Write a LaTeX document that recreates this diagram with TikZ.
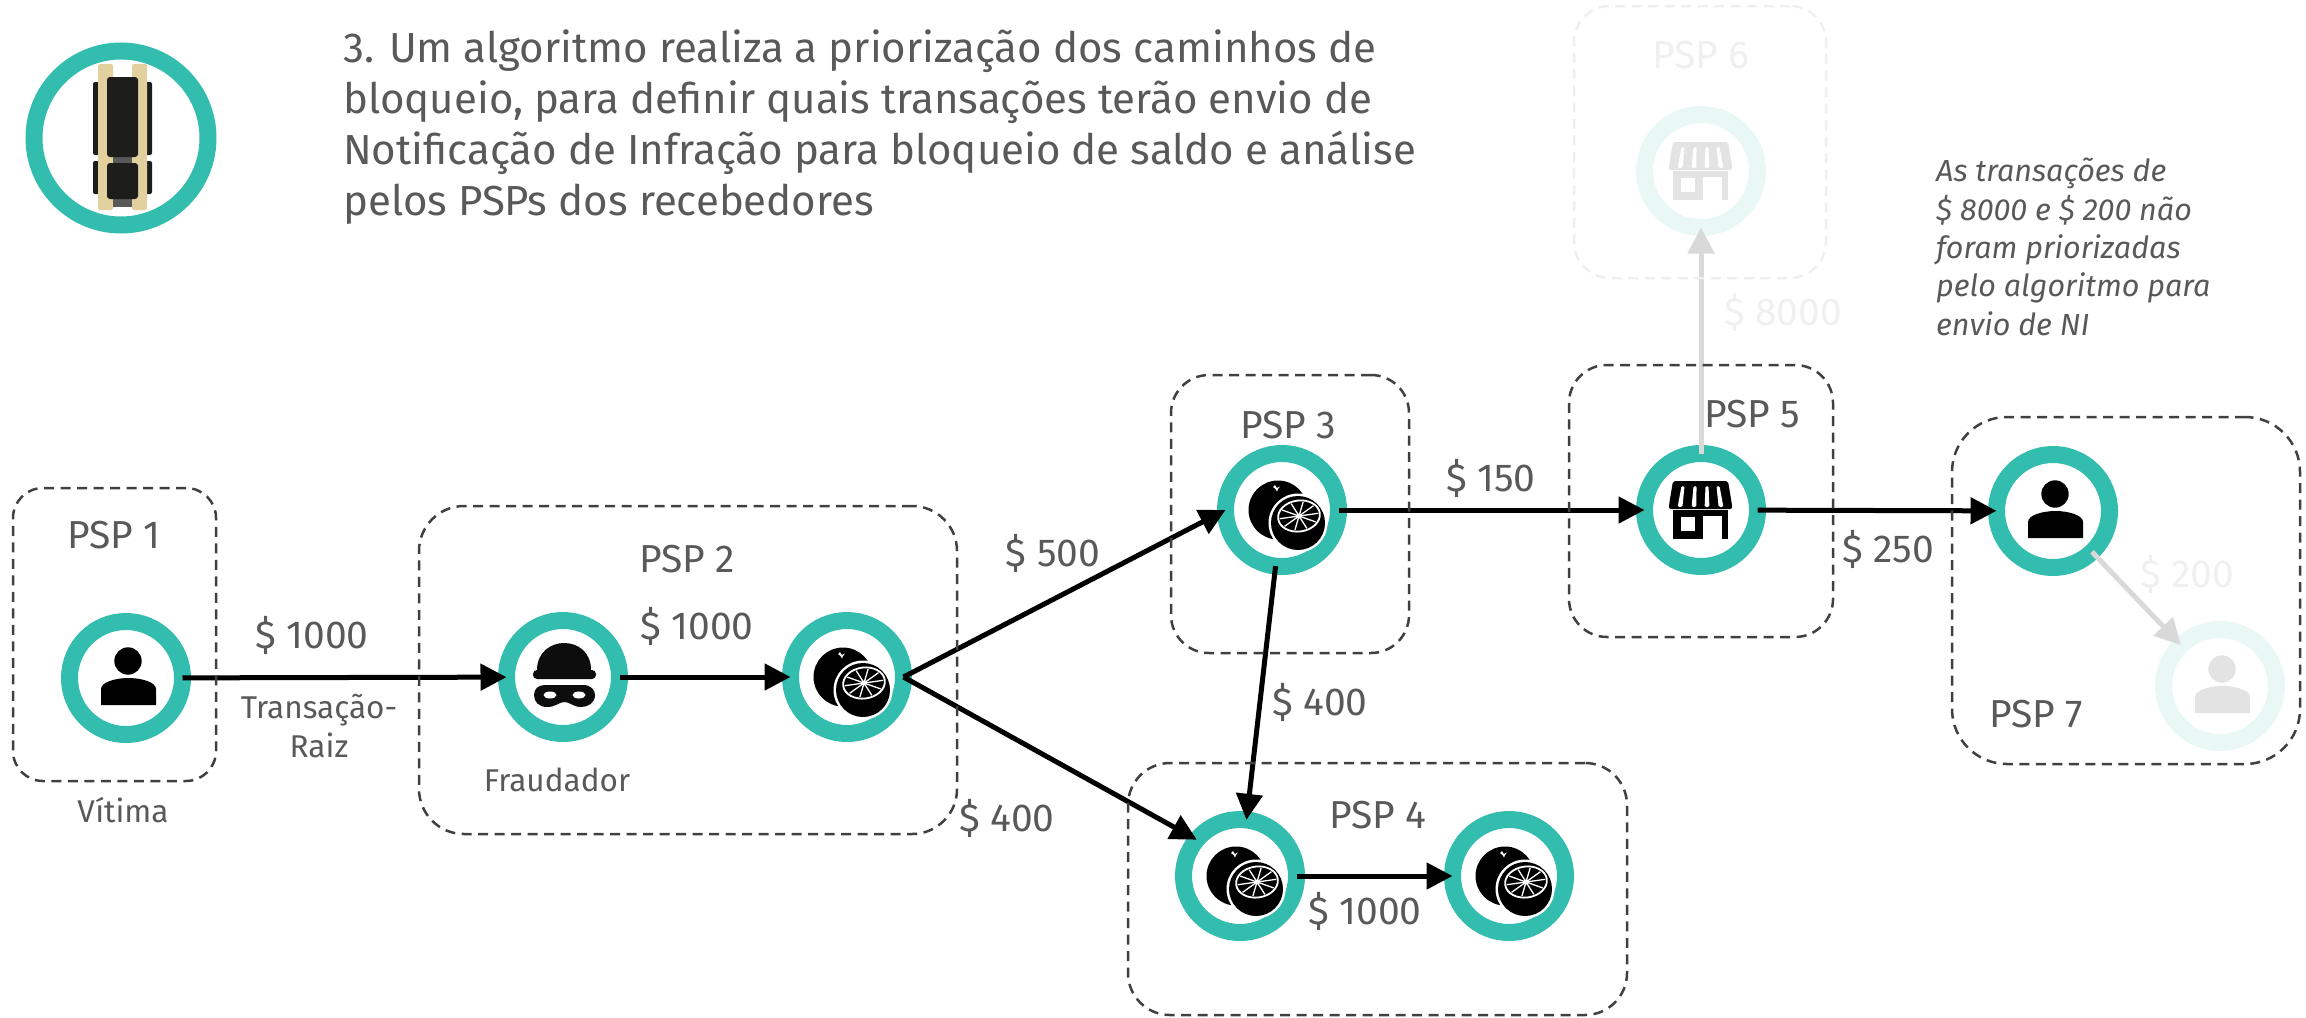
\documentclass[tikz,border=0pt]{standalone}
\usepackage{fontspec}
\setmainfont{Fira Sans}
\usetikzlibrary{arrows.meta}
\definecolor{ringteal}{HTML}{33BDAE}
\definecolor{ringfaded}{HTML}{EAF8F5}
\definecolor{textgray}{HTML}{595959}
\definecolor{textfaded}{HTML}{F0F0F0}
\definecolor{dashgray}{HTML}{404040}
\definecolor{dashfaded}{HTML}{EFEFEF}
\definecolor{arrowfaded}{HTML}{D9D9D9}
\definecolor{iconfaded}{HTML}{E3E3E3}
\definecolor{railbeige}{HTML}{E3D09F}
\definecolor{truckblack}{HTML}{1D1D1B}
\tikzstyle{ring} = [circle, draw=ringteal, line width=17pt, minimum size=113pt,
                    inner sep=0pt, outer sep=0pt]
\tikzstyle{ringoff} = [ring, draw=ringfaded]
\tikzstyle{arrow} = [line width=5pt, -{Triangle[length=26pt, width=26pt]}]
\tikzstyle{arrowoff} = [arrow, draw=arrowfaded, -{Triangle[length=26pt, width=26pt, fill=arrowfaded]}]
\tikzstyle{pspbox} = [rectangle, draw=dashgray, line width=2.5pt, dash pattern=on 10pt off 6.5pt,
                      inner sep=0pt, outer sep=0pt]
\tikzstyle{pspboxoff} = [pspbox, draw=dashfaded]
\tikzstyle{bigtext} = [anchor=base, text=textgray, font=\fontsize{39}{46}\selectfont, inner sep=0pt]
\tikzstyle{bigtextoff} = [bigtext, text=textfaded]
\tikzstyle{smalltext} = [anchor=base, text=textgray, font=\fontsize{31.5}{39}\selectfont, inner sep=0pt, align=center]
\tikzset{
  pics/person/.style={code={
    \fill[#1] (2,-17) circle (13.7);
    \fill[#1] (-25,27) -- (-25,11) .. controls (-25,4) and (-10,0) .. (2.5,0)
       .. controls (15,0) and (30,4) .. (30,11) -- (30,27) -- cycle;
  }},
  pics/fraudster/.style={code={
    \fill[#1] (-26,-7) .. controls (-26,-25) and (-12,-34) .. (1,-34)
       .. controls (15,-34) and (28,-25) .. (28,-7) -- cycle;
    \fill[#1, rounded corners=4] (-30,-7) rectangle (33,2);
    \fill[#1] (-18,8) -- (20,8) .. controls (28,8) and (32,13) .. (32,18)
       .. controls (32,26) and (25,30) .. (18,30) .. controls (10,30) and (7,25) .. (1.5,25)
       .. controls (-4,25) and (-7,30) .. (-16,30) .. controls (-24,30) and (-29,25) .. (-29,18)
       .. controls (-29,12) and (-25,8) .. (-18,8) -- cycle;
    \fill[white] (-13,18) ellipse (6.5 and 3.5);
    \fill[white] (16,18) ellipse (6.5 and 3.5);
  }},
  pics/orange/.style={code={
    \fill[#1] (-4,0) circle (29.5);
    \fill[white] (-7,-25) -- (-5.3,-22) -- (-2,-23.5) -- (-4,-21) -- (-5,-18.5) -- (-6.5,-21) -- (-9,-23) -- cycle;
    \fill[white] (16,13) circle (29.5);
    \fill[#1] (16,13) circle (27);
    \begin{scope}[shift={(17,6)}, rotate=8]
      \draw[white, line width=1.8] (0,0) ellipse (21 and 15.5);
      \foreach \a in {0,36,...,324}
        \draw[white, line width=1.3] (0,0) -- (\a:19.5 and 14);
      \fill[white] (0,0) circle (2.5);
    \end{scope}
  }},
  pics/shop/.style={code={
    \fill[#1, rounded corners=2] (-28,-29) -- (27,-29) -- (31,-5) -- (31,-1) -- (-32,-1) -- (-32,-5) -- cycle;
    \foreach \tx/\bx in {-18/-21,-6/-7,6/6,17/20}
      \fill[white, rounded corners=1.5] (\tx-1.5,-24) -- (\tx+1.5,-24) -- (\bx+2.4,-3) -- (\bx-2.4,-3) -- cycle;
    \fill[#1] (-28,0) rectangle (27,29);
    \fill[white] (-20,7) rectangle (-6,21);
    \fill[white] (2,6) rectangle (21,29);
  }},
  pics/truck/.style={code={
    \fill[truckblack, rounded corners=2] (93,82) rectangle (152,155);
    \fill[truckblack, rounded corners=2] (93,161) rectangle (152,194);
    \fill[railbeige, rounded corners=1.5] (98,64) rectangle (113,210);
    \fill[railbeige, rounded corners=1.5] (132,64) rectangle (147,210);
    \fill[textgray] (113,157) rectangle (132,163);
    \fill[textgray] (113,199) rectangle (132,207);
    \fill[truckblack, rounded corners=3] (107,77) rectangle (138,157);
    \fill[truckblack, rounded corners=3] (107,163) rectangle (138,199);
  }}
}

\begin{document}
\begin{tikzpicture}[x=1pt, y=-1pt]
        \useasboundingbox (0,0) rectangle (2306,1017);

        %Logo and heading
        \node at (121,138)(Logo) [ring, minimum size=174pt] {};
        \pic at (0,0) {truck};
        \node at (343,215)(Heading) [anchor=base west, inner sep=0pt, align=left, text=textgray,
            font=\fontsize{42}{51}\selectfont] {3. Um algoritmo realiza a priorização dos caminhos de\\
            bloqueio, para definir quais transações terão envio de\\
            Notificação de Infração para bloqueio de saldo e análise\\
            pelos PSPs dos recebedores};

        %Rings
        \node at (126,678)(Victim) [ring] {};
        \node at (563,677)(Fraudster) [ring] {};
        \node at (847,677)(OrangeA) [ring] {};
        \node at (1282,510)(OrangeB) [ring] {};
        \node at (1240,876)(OrangeC) [ring] {};
        \node at (1509,876)(OrangeD) [ring] {};
        \node at (1701,510)(Shop) [ring] {};
        \node at (1701,171)(ShopOff) [ringoff] {};
        \node at (2053,511)(Person) [ring] {};
        \node at (2220,686)(PersonOff) [ringoff] {};

        %Icons
        \pic at (Victim) {person=black};
        \pic at (Fraudster) {fraudster=black!95};
        \pic at (OrangeA) {orange=black};
        \pic at (OrangeB) {orange=black};
        \pic at (OrangeC) {orange=black};
        \pic at (OrangeD) {orange=black};
        \pic at (Shop) {shop=black};
        \pic at (ShopOff) {shop=iconfaded};
        \pic at (Person) {person=black};
        \pic at (PersonOff) {person=iconfaded};

        %Transfers
        \draw [arrow] (Victim) -- (Fraudster);
        \draw [arrow] (Fraudster) -- (OrangeA);
        \draw [arrow] (OrangeA.east) -- (OrangeB.west);
        \draw [arrow] (OrangeA.east) -- (OrangeC.140);
        \draw [arrow] (OrangeB) -- (OrangeC);
        \draw [arrow] (OrangeC) -- (OrangeD);
        \draw [arrow] (OrangeB) -- (Shop);
        \draw [arrow] (Shop) -- (Person);
        \draw [arrowoff] (Shop) -- (ShopOff);
        \draw [arrowoff] (Person) -- (PersonOff);

        %PSP boxes
        \node at (114.5,634.5)(BoxA) [pspbox, rounded corners=30, minimum width=203pt, minimum height=293pt] {};
        \node at (688,670)(BoxB) [pspbox, rounded corners=45, minimum width=538pt, minimum height=328pt] {};
        \node at (1290,514)(BoxC) [pspbox, rounded corners=38, minimum width=238pt, minimum height=278pt] {};
        \node at (1377.5,889)(BoxD) [pspbox, rounded corners=42, minimum width=499pt, minimum height=252pt] {};
        \node at (1701,501)(BoxE) [pspbox, rounded corners=38, minimum width=264pt, minimum height=272pt] {};
        \node at (1700,142)(BoxF) [pspboxoff, rounded corners=36, minimum width=252pt, minimum height=272pt] {};
        \node at (2126,590.5)(BoxG) [pspbox, rounded corners=55, minimum width=348pt, minimum height=347pt] {};

        %PSP names
        \node at (114,548)(NameA) [bigtext] {PSP 1};
        \node at (687,572)(NameB) [bigtext] {PSP 2};
        \node at (1288,438)(NameC) [bigtext] {PSP 3};
        \node at (1378,828)(NameD) [bigtext] {PSP 4};
        \node at (1752,427)(NameE) [bigtext] {PSP 5};
        \node at (1701,68)(NameF) [bigtextoff] {PSP 6};
        \node at (2036,727)(NameG) [bigtext] {PSP 7};

        %Values
        \node at (312,648)(ValueA) [bigtext] {\$ 1000};
        \node at (697,639)(ValueB) [bigtext] {\$ 1000};
        \node at (1053,566)(ValueC) [bigtext] {\$ 500};
        \node at (1007,831)(ValueD) [bigtext] {\$ 400};
        \node at (1320,715)(ValueE) [bigtext] {\$ 400};
        \node at (1365,924)(ValueF) [bigtext] {\$ 1000};
        \node at (1491,491)(ValueG) [bigtext] {\$ 150};
        \node at (1888,562)(ValueH) [bigtext] {\$ 250};
        \node at (1783,325)(ValueI) [bigtextoff] {\$ 8000};
        \node at (2187,587)(ValueJ) [bigtextoff] {\$ 200};

        %Small labels
        \node at (123,822)(Vitima) [smalltext] {Vítima};
        \node at (557,791)(Fraudador) [smalltext] {Fraudador};
        \node at (319,757)(TransacaoRaiz) [smalltext] {Transação-\\Raiz};
        \node at (1936,335)(Note) [anchor=base west, inner sep=0pt, align=left, text=textgray,
            font=\fontsize{30.5}{38.3}\selectfont\itshape] {As transações de\\
            \$ 8000 e \$ 200 não\\
            foram priorizadas\\
            pelo algoritmo para\\
            envio de NI};

\end{tikzpicture}
\end{document}
